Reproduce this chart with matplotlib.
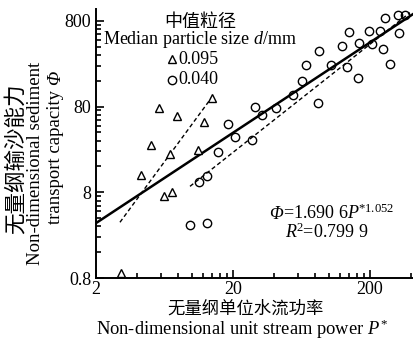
import numpy as np
import matplotlib.pyplot as plt
from matplotlib.ticker import FixedLocator, NullFormatter

plt.rcParams['font.family'] = ['Liberation Serif', 'Noto Sans CJK SC']
plt.rcParams['mathtext.fontset'] = 'custom'
plt.rcParams['mathtext.rm'] = 'Liberation Serif'
plt.rcParams['mathtext.it'] = 'Liberation Serif:italic'

# d = 0.095 mm
p_095 = [3.04, 4.26, 5.04, 5.77, 6.27, 7.17, 6.94, 7.80, 11.1, 12.3, 14.05]
phi_095 = [0.91, 12.6, 28.2, 77.9, 7.19, 8.0, 22.1, 61.2, 24.6, 53.5, 101.8]

# d = 0.040 mm
p_040 = [9.71, 12.9, 11.3, 12.9, 15.5, 18.4, 20.7, 27.5, 28.9, 32.6, 41.2,
         54.8, 63.8, 68.2, 83.5, 84.9, 103.8, 124.9, 135.9, 140.5, 163.5,
         166, 197, 207, 237, 249, 257, 280, 320, 326, 360]
phi_040 = [3.31, 3.49, 10.5, 12.3, 23.3, 50.7, 34.9, 32.2, 80, 62.9, 77.9,
           110, 160, 246, 89, 358, 246, 410, 233, 596, 174,
           444, 612, 432, 612, 378, 866, 253, 939, 580, 939]

# fitted relations
coef, expo = 1.6906, 1.052
p_fit = np.array([2, 420])
p_dash_095 = [2.99, 14.3]
phi_dash_095 = [3.58, 107]
p_dash_040 = [9.71, 392]
phi_dash_040 = [9.39, 991]

fig = plt.figure(figsize=(4.14, 3.40), dpi=100)
ax = fig.add_axes([0.232, 0.182, 0.768, 0.792])

ax.plot(p_fit, coef * p_fit ** expo, color='black', lw=1.8, zorder=3)
ax.plot(p_dash_095, phi_dash_095, color='black', lw=1.0, ls=(0, (3, 2)))
ax.plot(p_dash_040, phi_dash_040, color='black', lw=1.0, ls=(0, (3, 2)))

ax.plot(p_095, phi_095, ls='none', marker='^', ms=5.5, mfc='white',
        mec='black', mew=1.0, zorder=4)
ax.plot(p_040, phi_040, ls='none', marker='o', ms=6, mfc='none',
        mec='black', mew=1.0, zorder=4)

ax.set_xscale('log')
ax.set_yscale('log')
ax.set_xlim(2, 420)
ax.set_ylim(0.8, 1100)

xmaj = [2, 20, 200]
ymaj = [0.8, 8, 80, 800]
ax.xaxis.set_major_locator(FixedLocator(xmaj))
ax.yaxis.set_major_locator(FixedLocator(ymaj))
ax.xaxis.set_minor_locator(FixedLocator([b * k for b in xmaj for k in range(2, 10)]))
ax.yaxis.set_minor_locator(FixedLocator([b * k for b in ymaj for k in range(2, 10)]))
ax.set_xticklabels(['2', '20', '200'])
ax.set_yticklabels(['0.8', '8', '80', '800'])
ax.xaxis.set_minor_formatter(NullFormatter())
ax.yaxis.set_minor_formatter(NullFormatter())
ax.tick_params(which='both', direction='in', labelsize=13, width=1.2)
ax.tick_params(which='major', length=6)
ax.tick_params(which='minor', length=3.5)
ax.tick_params(axis='x', pad=2)

for s in ['top', 'right']:
    ax.spines[s].set_visible(False)
for s in ['left', 'bottom']:
    ax.spines[s].set_linewidth(1.4)

# legend written as text
fig.text(200 / 414, 1 - 22 / 340, '中值粒径', ha='center', va='center', fontsize=13)
fig.text(200 / 414, 1 - 40 / 340, 'Median particle size $d$/mm', ha='center',
         va='center', fontsize=13)
fig.text(178 / 414, 1 - 60 / 340, '0.095', ha='left', va='center', fontsize=13)
fig.text(178 / 414, 1 - 80 / 340, '0.040', ha='left', va='center', fontsize=13)
fig.lines.append(plt.Line2D([172 / 414], [1 - 59 / 340], transform=fig.transFigure,
                            marker='^', ms=5.5, mfc='white', mec='black', mew=1.0))
fig.lines.append(plt.Line2D([172 / 414], [1 - 80 / 340], transform=fig.transFigure,
                            marker='o', ms=6, mfc='none', mec='black', mew=1.0))

# fitted equation, italic Phi set as its own text
eq_x, eq_y = 283 / 414, 1 - 219 / 340
fig.text(eq_x, eq_y, 'Φ', style='italic', ha='right', va='baseline', fontsize=13)
fig.text(eq_x, eq_y, r'=1.690 6$P$$^{*1.052}$', ha='left', va='baseline',
         fontsize=13)
fig.text(327 / 414, 1 - 232 / 340, r'$R$$^2$=0.799 9', ha='center', va='center',
         fontsize=13)

fig.text(16 / 414, 1 - 159 / 340, '无量纲输沙能力', rotation=90, ha='center',
         va='center', fontsize=15.5)
fig.text(36 / 414, 1 - 163 / 340, 'Non-dimensional sediment', rotation=90,
         ha='center', va='center', fontsize=13.5)
lab_x, lab_y = 60 / 414, 1 - 85 / 340
fig.text(lab_x, lab_y, 'transport capacity ', rotation=90, rotation_mode='anchor',
         ha='right', va='baseline', fontsize=13.5)
fig.text(lab_x, lab_y, 'Φ', rotation=90, rotation_mode='anchor', style='italic',
         ha='left', va='baseline', fontsize=13.5)

fig.text(246 / 414, 1 - 309 / 340, '无量纲单位水流功率', ha='center', va='center',
         fontsize=12.5)
fig.text(242 / 414, 1 - 329 / 340, 'Non-dimensional unit stream power $P$$^*$',
         ha='center', va='center', fontsize=13.3)

fig.savefig('out.png', dpi=100)
